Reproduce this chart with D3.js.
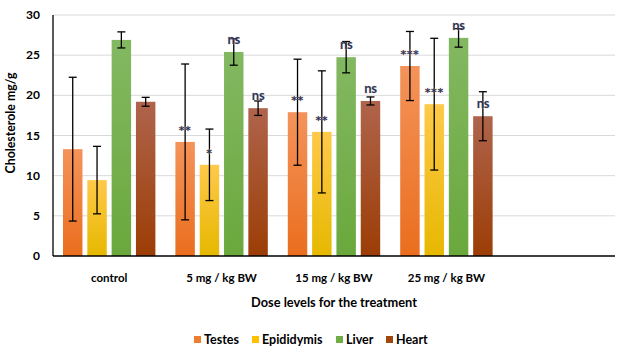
<!DOCTYPE html>
<html><head><meta charset="utf-8">
<script src="https://cdn.jsdelivr.net/npm/d3@7"></script>
<style>body{margin:0;background:#fff}svg{display:block;font-family:Lato,"Open Sans",sans-serif}</style>
</head><body><svg id="c" width="620" height="356"></svg>
<script>
const categories = ["control", "5 mg / kg BW", "15 mg / kg BW", "25 mg / kg BW", ""];
const seriesNames = ["Testes", "Epididymis", "Liver", "Heart"];
const testes = [13.3, 14.2, 17.9, 23.65];
const testesErr = [8.95, 9.7, 6.6, 4.3];
const epididymis = [9.45, 11.35, 15.45, 18.9];
const epididymisErr = [4.2, 4.45, 7.6, 8.2];
const liver = [26.9, 25.4, 24.75, 27.15];
const liverErr = [1.0, 1.65, 1.95, 1.15];
const heart = [19.2, 18.4, 19.3, 17.4];
const heartErr = [0.55, 0.9, 0.5, 3.05];
const testesSig = ["", "**", "**", "***"];
const epididymisSig = ["", "*", "**", "***"];
const liverSig = ["", "ns", "ns", "ns"];
const heartSig = ["", "ns", "ns", "ns"];
const yTicks = [0, 5, 10, 15, 20, 25, 30];

const series = [
  {name: "Testes", vals: testes, err: testesErr, sig: testesSig, top: "#F4935A", bot: "#EA6E1E", solid: "#ED7D31"},
  {name: "Epididymis", vals: epididymis, err: epididymisErr, sig: epididymisSig, top: "#FFC94A", bot: "#E6B800", solid: "#FFC000"},
  {name: "Liver", vals: liver, err: liverErr, sig: liverSig, top: "#83B862", bot: "#6AA83C", solid: "#70AD47"},
  {name: "Heart", vals: heart, err: heartErr, sig: heartSig, top: "#AF644C", bot: "#9C3D05", solid: "#9E480E"}
];

const svg = d3.select("#c");
const L = 53, R = 615, T = 15, B = 256;
const y = d3.scaleLinear().domain([0, 30]).range([B, T]);
const x0 = d3.scaleBand().domain(categories.map((c, i) => i)).range([L, R]).padding(0);
const x1 = d3.scaleBand().domain(seriesNames).range([10, x0.bandwidth() - 10]).paddingInner(0.2);

const defs = svg.append("defs");
series.forEach((s, i) => {
  const g = defs.append("linearGradient").attr("id", "g" + i).attr("x1", 0).attr("y1", 0).attr("x2", 0).attr("y2", 1);
  g.append("stop").attr("offset", "0%").attr("stop-color", s.top);
  g.append("stop").attr("offset", "100%").attr("stop-color", s.bot);
});

// gridlines
svg.append("g").selectAll("line").data(yTicks.filter(t => t > 0)).join("line")
  .attr("x1", L).attr("x2", R).attr("y1", d => y(d)).attr("y2", d => y(d))
  .attr("stroke", "#D9D9D9").attr("stroke-width", 1);

// bars
series.forEach((s, si) => {
  const g = svg.append("g");
  g.selectAll("rect").data(s.vals).join("rect")
    .attr("x", (d, i) => x0(i) + x1(s.name))
    .attr("width", x1.bandwidth())
    .attr("y", d => y(d))
    .attr("height", d => B - y(d))
    .attr("fill", "url(#g" + si + ")");
});

// error bars
series.forEach(s => {
  const g = svg.append("g").attr("stroke", "#000").attr("stroke-width", 1.3);
  s.vals.forEach((v, i) => {
    const cx = x0(i) + x1(s.name) + x1.bandwidth() / 2;
    const hi = y(v + s.err[i]), lo = y(v - s.err[i]);
    g.append("line").attr("x1", cx).attr("x2", cx).attr("y1", hi).attr("y2", lo);
    g.append("line").attr("x1", cx - 4).attr("x2", cx + 4).attr("y1", hi).attr("y2", hi);
    g.append("line").attr("x1", cx - 4).attr("x2", cx + 4).attr("y1", lo).attr("y2", lo);
  });
});

// significance labels
series.forEach(s => {
  svg.append("g").selectAll("text").data(s.vals).join("text")
    .attr("x", (d, i) => x0(i) + x1(s.name) + x1.bandwidth() / 2)
    .attr("y", (d, i) => y(d) - 8)
    .attr("text-anchor", "middle")
    .attr("font-family", (d, i) => s.sig[i].includes("*") ? "'DejaVu Sans'" : "Lato")
    .attr("font-size", (d, i) => s.sig[i].includes("*") ? 11 : 13)
    .attr("letter-spacing", (d, i) => s.sig[i].includes("*") ? 0.6 : -0.3)
    .attr("font-weight", "bold")
    .attr("fill", "#1F3864")
    .attr("stroke", "#F4B183").attr("stroke-width", 0.35).attr("paint-order", "stroke")
    .text((d, i) => s.sig[i]);
});

// axes lines
svg.append("line").attr("x1", L).attr("x2", L).attr("y1", T).attr("y2", B).attr("stroke", "#000").attr("stroke-width", 1.3);
svg.append("line").attr("x1", L).attr("x2", R).attr("y1", B).attr("y2", B).attr("stroke", "#000").attr("stroke-width", 1.3);

// y tick labels
svg.append("g").selectAll("text").data(yTicks).join("text")
  .attr("x", 40).attr("y", d => y(d) + 4).attr("text-anchor", "end")
  .attr("font-size", 12).attr("font-weight", "bold").attr("fill", "#000")
  .text(d => d);

// x tick labels
svg.append("g").selectAll("text").data(categories).join("text")
  .attr("x", (d, i) => x0(i) + x0.bandwidth() / 2).attr("y", 282)
  .attr("text-anchor", "middle").attr("font-size", 11.5).attr("font-weight", "bold").attr("fill", "#000")
  .text(d => d);

// axis titles
svg.append("text").attr("x", 334).attr("y", 307).attr("text-anchor", "middle")
  .attr("font-size", 12.8).attr("font-weight", "bold").attr("fill", "#000")
  .text("Dose levels for the treatment");
svg.append("text").attr("transform", "translate(15,123) rotate(-90)").attr("text-anchor", "middle")
  .attr("font-size", 12.3).attr("font-weight", "bold").attr("fill", "#000")
  .text("Cholesterole mg/g");

// legend
const legX = [194, 252, 336, 386];
const lg = svg.append("g");
series.forEach((s, i) => {
  lg.append("rect").attr("x", legX[i]).attr("y", 336).attr("width", 7).attr("height", 7).attr("fill", s.solid);
  lg.append("text").attr("x", legX[i] + 10).attr("y", 344).attr("font-size", 12.5).attr("font-weight", "bold")
    .attr("fill", "#000").text(s.name);
});
</script></body></html>
